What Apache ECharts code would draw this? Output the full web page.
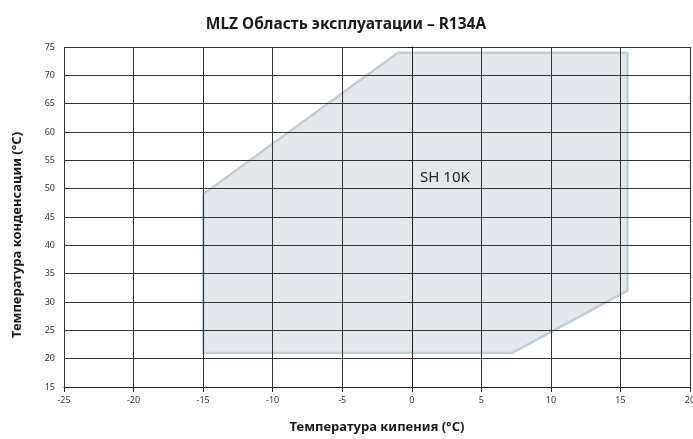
<!DOCTYPE html>
<html>
<head>
<meta charset="utf-8">
<script src="https://cdn.jsdelivr.net/npm/echarts@6/dist/echarts.min.js"></script>
<style>
  html, body { margin: 0; padding: 0; background: #fff; }
  #main { width: 693px; height: 439px; }
</style>
</head>
<body>
<div id="main"></div>
<script>
// envelope vertices (evaporating temp, condensing temp)
var evapTemp = [-15, -15, -1, 15.5, 15.5, 7.2];
var condTemp = [21, 49, 74, 74, 32, 21];
var envelopeLabel = 'SH 10K';
var labelPos = [0.6, 52];

var xTicks = [-25, -20, -15, -10, -5, 0, 5, 10, 15, 20];
var yTicks = [15, 20, 25, 30, 35, 40, 45, 50, 55, 60, 65, 70, 75];

var points = evapTemp.map(function (x, i) { return [x, condTemp[i]]; });

var myChart = echarts.init(document.getElementById('main'));
myChart.setOption({
    animation: false,
    title: {
        text: 'MLZ Область эксплуатации – R134A',
        left: 341,
        top: 12,
        textAlign: 'center',
        textStyle: {
            fontFamily: 'Noto Sans',
            fontSize: 15.5,
            fontWeight: 'bold',
            color: '#1a1a1a'
        }
    },
    grid: { left: 64, right: 3, top: 47, bottom: 52, outerBoundsMode: 'none', containLabel: false },
    xAxis: {
        type: 'value',
        min: xTicks[0],
        max: xTicks[xTicks.length - 1],
        interval: 5,
        z: 5,
        name: 'Температура кипения (°C)',
        nameLocation: 'middle',
        nameGap: 34,
        nameTextStyle: { fontFamily: 'Noto Sans', fontSize: 13, fontWeight: 'bold', color: '#1a1a1a' },
        axisLine: { show: true, lineStyle: { color: '#222', width: 1 } },
        axisTick: { show: true, length: 5, lineStyle: { color: '#222' } },
        axisLabel: { fontFamily: 'Noto Sans', fontSize: 9, color: '#333', margin: 9 },
        splitLine: { show: true, lineStyle: { color: '#333', width: 1 } }
    },
    yAxis: {
        type: 'value',
        min: yTicks[0],
        max: yTicks[yTicks.length - 1],
        interval: 5,
        z: 5,
        name: 'Температура конденсации (°C)',
        nameLocation: 'middle',
        nameGap: 40,
        nameTextStyle: { fontFamily: 'Noto Sans', fontSize: 13, fontWeight: 'bold', color: '#1a1a1a', padding: [0, 36, 0, 0] },
        axisLine: { show: true, lineStyle: { color: '#222', width: 1 } },
        axisTick: { show: true, length: 5, lineStyle: { color: '#222' } },
        axisLabel: { fontFamily: 'Noto Sans', fontSize: 9, color: '#333', margin: 9 },
        splitLine: { show: true, lineStyle: { color: '#333', width: 1 } }
    },
    series: [
        {
            type: 'custom',
            z: 1,
            silent: true,
            data: [0],
            renderItem: function (params, api) {
                var pts = points.map(function (p) { return api.coord(p); });
                var lp = api.coord(labelPos);
                return {
                    type: 'group',
                    children: [
                        {
                            type: 'polygon',
                            shape: { points: pts },
                            style: { fill: '#e4e8ec', stroke: '#c4cdd4', lineWidth: 2.5 }
                        },
                        {
                            type: 'text',
                            x: lp[0],
                            y: lp[1],
                            z2: 10,
                            style: {
                                text: envelopeLabel,
                                fill: '#222',
                                font: '15px "Noto Sans"',
                                textAlign: 'left',
                                textVerticalAlign: 'middle'
                            }
                        }
                    ]
                };
            }
        }
    ]
});
</script>
</body>
</html>
